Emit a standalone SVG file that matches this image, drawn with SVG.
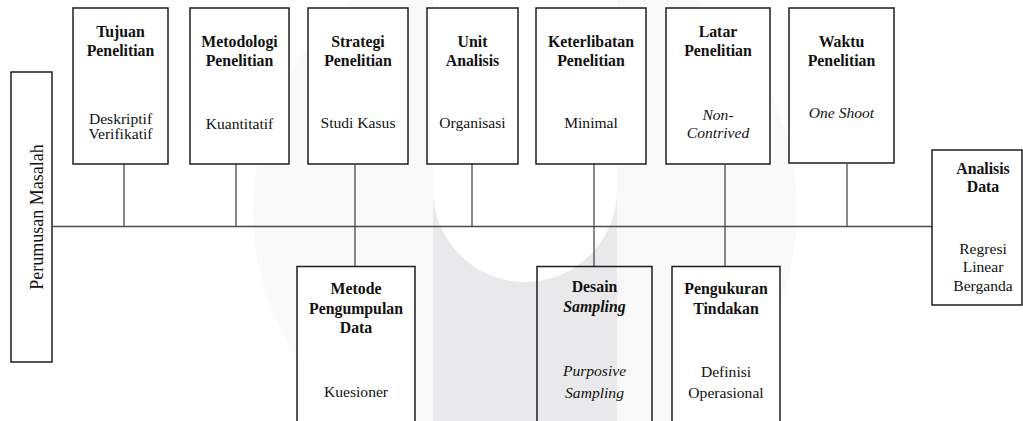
<svg xmlns="http://www.w3.org/2000/svg" width="1023" height="421" viewBox="0 0 1023 421" font-family="'Liberation Serif', 'DejaVu Serif', serif">
<style>
.box{fill:#ffffff;stroke:#1e1e1e;stroke-width:1.5}
.bxt{fill:none;stroke:#1e1e1e;stroke-width:1.5}
.ln{stroke:#4a4a4a;stroke-width:1.3;fill:none}
text{font-family:'Liberation Serif','DejaVu Serif',serif;font-size:15.6px;fill:#111;text-anchor:middle}
.t{font-weight:bold;font-size:15.8px}
.i{font-style:italic}
</style>
<rect width="1023" height="421" fill="#ffffff"/>
<g id="watermark">
<circle cx="525" cy="210" r="272" fill="#f9f9f9"/>
<rect x="433" y="190" width="184" height="240" fill="#e9e9eb"/>
<path d="M433,-10 L433,190 A92,92 0 0 0 617,190 L617,-10 Z" fill="#ffffff"/>
</g>
<g id="connectors">
<line class="ln" x1="53" y1="226.5" x2="932" y2="226.5"/>
<line class="ln" x1="124" y1="164" x2="124" y2="226.5"/>
<line class="ln" x1="236" y1="164" x2="236" y2="226.5"/>
<line class="ln" x1="355" y1="164" x2="355" y2="266.5"/>
<line class="ln" x1="472" y1="164" x2="472" y2="226.5"/>
<line class="ln" x1="594" y1="164" x2="594" y2="266.5"/>
<line class="ln" x1="725" y1="164" x2="725" y2="266.5"/>
<line class="ln" x1="847" y1="164" x2="847" y2="226.5"/>
</g>
<g id="perumusan">
<rect class="box" x="11" y="72" width="41" height="290"/>
<text style="font-size:18px" transform="translate(43,217) rotate(-90)">Perumusan Masalah</text>
</g>
<g id="tujuan">
<rect class="box" x="73" y="8" width="95" height="156"/>
<text class="t" x="120.5" y="37">Tujuan</text>
<text class="t" x="120.5" y="55.5">Penelitian</text>
<text x="120.5" y="124">Deskriptif</text>
<text x="120.5" y="139">Verifikatif</text>
</g>
<g id="metodologi">
<rect class="box" x="190" y="8" width="99" height="156"/>
<text class="t" x="239.5" y="47">Metodologi</text>
<text class="t" x="239.5" y="66">Penelitian</text>
<text x="239.5" y="129">Kuantitatif</text>
</g>
<g id="strategi">
<rect class="box" x="308" y="8" width="100" height="156"/>
<text class="t" x="358" y="47">Strategi</text>
<text class="t" x="358" y="66">Penelitian</text>
<text x="358" y="128">Studi Kasus</text>
</g>
<g id="unit">
<rect class="box" x="427" y="8" width="91" height="156"/>
<text class="t" x="472.5" y="47">Unit</text>
<text class="t" x="472.5" y="66">Analisis</text>
<text x="472.5" y="128">Organisasi</text>
</g>
<g id="keterlibatan">
<rect class="box" x="536" y="8" width="110" height="156"/>
<text class="t" x="591" y="47">Keterlibatan</text>
<text class="t" x="591" y="66">Penelitian</text>
<text x="591" y="128">Minimal</text>
</g>
<g id="latar">
<rect class="box" x="666" y="8" width="104" height="156"/>
<text class="t" x="718" y="37">Latar</text>
<text class="t" x="718" y="55.5">Penelitian</text>
<text class="i" x="718" y="120">Non-</text>
<text class="i" x="718" y="138">Contrived</text>
</g>
<g id="waktu">
<rect class="box" x="789" y="8" width="105" height="155"/>
<text class="t" x="841.5" y="47">Waktu</text>
<text class="t" x="841.5" y="66">Penelitian</text>
<text class="i" x="841.5" y="118">One Shoot</text>
</g>
<g id="analisis">
<rect class="box" x="932" y="150" width="90" height="155"/>
<text class="t" x="983" y="173.5">Analisis</text>
<text class="t" x="983" y="192">Data</text>
<text x="983" y="253.5">Regresi</text>
<text x="983" y="272">Linear</text>
<text x="983" y="290.5">Berganda</text>
</g>
<g id="metode">
<rect class="box" x="297" y="266.5" width="118" height="170"/>
<text class="t" x="356" y="294">Metode</text>
<text class="t" x="356" y="313.5">Pengumpulan</text>
<text class="t" x="356" y="333">Data</text>
<text x="356" y="397">Kuesioner</text>
</g>
<g id="desain">
<rect class="bxt" x="537" y="266.5" width="115" height="170"/>
<text class="t" x="594.5" y="292">Desain</text>
<text class="t i" x="594.5" y="312">Sampling</text>
<text class="i" x="594.5" y="375.5">Purposive</text>
<text class="i" x="594.5" y="397.5">Sampling</text>
</g>
<g id="pengukuran">
<rect class="box" x="672" y="266.5" width="108" height="170"/>
<text class="t" x="726" y="294">Pengukuran</text>
<text class="t" x="726" y="313.5">Tindakan</text>
<text x="726" y="376.5">Definisi</text>
<text x="726" y="397.5">Operasional</text>
</g>
</svg>
